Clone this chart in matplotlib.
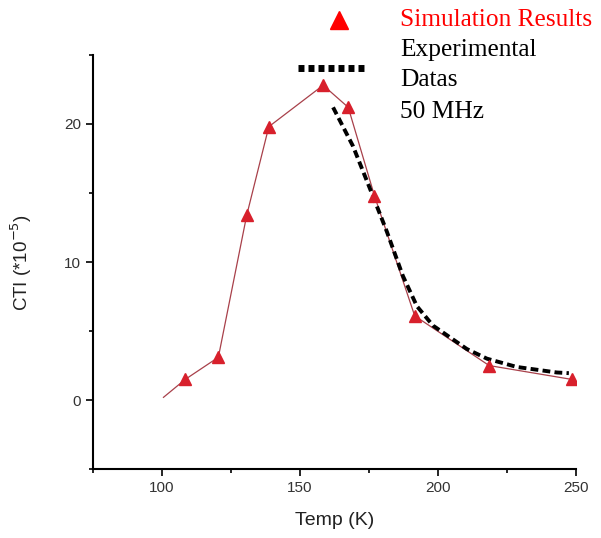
import matplotlib
matplotlib.use("Agg")
import matplotlib.pyplot as plt
from matplotlib.lines import Line2D
from matplotlib.ticker import MultipleLocator

# Simulation results (temperature K, CTI *1e-5)
sim_temp = [100.5, 108.4, 120.4, 130.7, 138.7, 158.4, 167.5, 177.0, 191.6, 218.6, 248.5]
sim_cti = [0.2, 1.5, 3.1, 13.4, 19.8, 22.8, 21.2, 14.8, 6.1, 2.5, 1.5]
sim_marker = [False, True, True, True, True, True, True, True, True, True, True]

# Experimental data, 50 MHz
exp_temp = [162.0, 169.2, 175.4, 181.5, 187.3, 192.4, 198.2, 210.5, 217.8, 228.6, 243.1, 247.5]
exp_cti = [21.2, 18.4, 15.3, 12.2, 9.0, 6.8, 5.4, 3.7, 3.0, 2.4, 2.0, 1.95]

x_ticks = [100, 150, 200, 250]
y_ticks = [0, 10, 20]

plt.rcParams['font.family'] = ['Liberation Sans', 'DejaVu Sans']
fig = plt.figure(figsize=(6.01, 5.38), dpi=100)
ax = fig.add_axes([0.155, 0.128, 0.803, 0.77])

ax.plot(sim_temp, sim_cti, color='#a8404a', lw=0.9, zorder=2)
mx = [t for t, m in zip(sim_temp, sim_marker) if m]
my = [c for c, m in zip(sim_cti, sim_marker) if m]
ax.plot(mx, my, linestyle='none', marker='^', color='#d8202c', markersize=9, zorder=4)
ax.plot(exp_temp, exp_cti, color='black', lw=2.8, linestyle=(0, (2, 1.1)), zorder=3)

ax.set_xlim(75, 250)
ax.set_ylim(-5, 25)
ax.set_xticks(x_ticks)
ax.set_yticks(y_ticks)
ax.xaxis.set_minor_locator(MultipleLocator(25))
ax.yaxis.set_minor_locator(MultipleLocator(5))
for s in ['top', 'right']:
    ax.spines[s].set_visible(False)
for s in ['left', 'bottom']:
    ax.spines[s].set_linewidth(1.5)
ax.tick_params(which='major', direction='out', length=5, width=1.2, labelsize=11, labelcolor='#333333')
ax.tick_params(which='minor', direction='out', length=3, width=1.2)
ax.set_xlabel('Temp (K)', fontsize=14, color='#222222', labelpad=12)
ax.set_ylabel('CTI (*10$^{-5}$)', fontsize=13.5, color='#222222', labelpad=22)

# Legend outside axes
fig.add_artist(Line2D([339 / 601], [1 - 20 / 538], transform=fig.transFigure,
                      marker='^', color='#ff0000', markersize=13, linestyle='none'))
fig.add_artist(Line2D([298 / 601, 368 / 601], [1 - 68 / 538, 1 - 68 / 538], transform=fig.transFigure,
                      color='black', lw=5, linestyle=(0, (0.86, 0.58))))
for txt, ypx, col in [('Simulation Results', 20, '#ff0000'), ('Experimental', 50, 'black'),
                      ('Datas', 80, 'black'), ('50 MHz', 112, 'black')]:
    fig.text(400 / 601, 1 - ypx / 538, txt, color=col, fontsize=18.3,
             family=['Liberation Serif'], va='center', ha='left')

fig.savefig('out.png', dpi=100)
